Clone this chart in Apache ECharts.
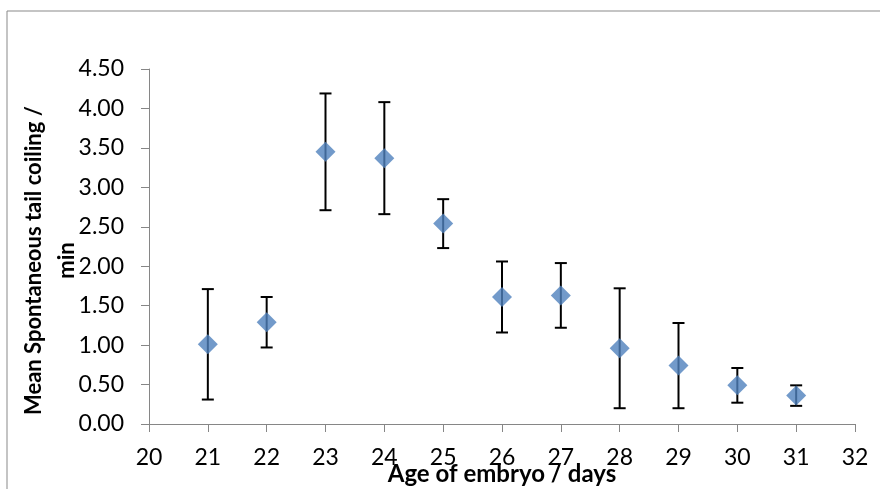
<!DOCTYPE html>
<html>
<head>
<meta charset="utf-8">
<script src="https://cdn.jsdelivr.net/npm/echarts@6/dist/echarts.min.js"></script>
<style>
  html, body { margin: 0; padding: 0; background: #fff; }
  #chart { width: 880px; height: 489px; }
</style>
</head>
<body>
<div id="chart"></div>
<script>
// Embryo age (days) and mean spontaneous tail coiling per minute, with error bar half-widths
const days = [21, 22, 23, 24, 25, 26, 27, 28, 29, 30, 31];
const meanCoiling = [1.01, 1.29, 3.45, 3.37, 2.54, 1.61, 1.63, 0.96, 0.74, 0.49, 0.36];
const errorSize = [0.70, 0.32, 0.74, 0.71, 0.31, 0.45, 0.41, 0.76, 0.54, 0.22, 0.13];

const xTicks = { min: 20, max: 32, interval: 1 };
const yTicks = { min: 0, max: 4.5, interval: 0.5 };

const FONT = 'Lato, "Open Sans", sans-serif';
const AXIS_GREY = '#868686';

const chart = echarts.init(document.getElementById('chart'), null, { renderer: 'canvas' });

const pointData = days.map((d, i) => [d, meanCoiling[i]]);
const errorData = days.map((d, i) => [d, meanCoiling[i] - errorSize[i], meanCoiling[i] + errorSize[i]]);

chart.setOption({
  backgroundColor: '#ffffff',
  animation: false,
  graphic: [{
    type: 'rect',
    shape: { x: 7, y: 11, width: 900, height: 500 },
    style: { fill: 'none', stroke: '#898989', lineWidth: 1 },
    silent: true,
    z: -1
  }],
  grid: { left: 149, right: 25, top: 69, bottom: 65, containLabel: false, outerBoundsMode: 'none' },
  xAxis: {
    type: 'value',
    min: xTicks.min,
    max: xTicks.max,
    interval: xTicks.interval,
    name: 'Age of embryo / days',
    nameLocation: 'middle',
    nameGap: 38,
    nameMoveOverlap: false,
    nameTextStyle: { fontFamily: FONT, fontWeight: 'bold', fontSize: 24, color: '#000' },
    axisLine: { show: true, onZero: false, lineStyle: { color: AXIS_GREY, width: 1 } },
    axisTick: { show: true, length: 8, lineStyle: { color: AXIS_GREY, width: 1 } },
    axisLabel: { fontFamily: FONT, fontSize: 23, color: '#000', margin: 22 },
    splitLine: { show: false }
  },
  yAxis: {
    type: 'value',
    min: yTicks.min,
    max: yTicks.max,
    interval: yTicks.interval,
    name: 'Mean Spontaneous tail coiling /\nmin',
    nameLocation: 'middle',
    nameGap: 66,
    nameMoveOverlap: false,
    nameTextStyle: {
      fontFamily: FONT, fontWeight: 'bold', fontSize: 22, color: '#000', lineHeight: 33,
      padding: [0, 28, 0, 0]
    },
    axisLine: { show: true, lineStyle: { color: AXIS_GREY, width: 1 } },
    axisTick: { show: true, length: 8, lineStyle: { color: AXIS_GREY, width: 1 } },
    axisLabel: {
      fontFamily: FONT, fontSize: 23, color: '#000', margin: 25,
      formatter: v => v.toFixed(2)
    },
    splitLine: { show: false }
  },
  series: [
    {
      type: 'custom',
      name: 'error',
      data: errorData,
      encode: { x: 0, y: [1, 2] },
      z: 2,
      renderItem: function (params, api) {
        const x = api.value(0);
        const lo = api.coord([x, api.value(1)]);
        const hi = api.coord([x, api.value(2)]);
        const half = 6;
        const style = { stroke: '#000', lineWidth: 2 };
        return {
          type: 'group',
          children: [
            { type: 'line', shape: { x1: lo[0], y1: lo[1], x2: hi[0], y2: hi[1] }, style },
            { type: 'line', shape: { x1: hi[0] - half, y1: hi[1], x2: hi[0] + half, y2: hi[1] }, style },
            { type: 'line', shape: { x1: lo[0] - half, y1: lo[1], x2: lo[0] + half, y2: lo[1] }, style }
          ]
        };
      }
    },
    {
      type: 'scatter',
      name: 'mean',
      data: pointData,
      symbol: 'diamond',
      symbolSize: [20, 20],
      itemStyle: { color: '#4F81BD' },
      z: 3
    }
  ]
});
</script>
</body>
</html>
